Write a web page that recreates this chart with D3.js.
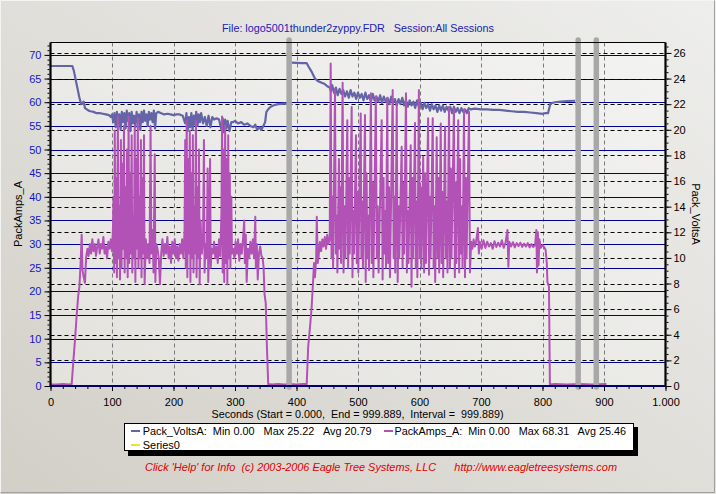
<!DOCTYPE html>
<html><head><meta charset="utf-8">
<script src="https://cdn.jsdelivr.net/npm/d3@7/dist/d3.min.js"></script>
<style>
html,body{margin:0;padding:0;background:#DAD8D1;overflow:hidden;}
svg{display:block;font-family:"Liberation Sans",Arial,sans-serif;}
</style>
</head><body>
<svg id="chart" width="716" height="494"></svg>
<script>
// ---------- DATA ----------
const titleText = "File: logo5001thunder2zyppy.FDR   Session:All Sessions";
const xTitle = "Seconds (Start = 0.000,  End = 999.889,  Interval =  999.889)";
const footerText = "Click 'Help' for Info  (c) 2003-2006 Eagle Tree Systems, LLC      http://www.eagletreesystems.com";
const leftAxisTitle = "PackAmps_A";
const rightAxisTitle = "Pack_VoltsA";
const xTickValues = [0,100,200,300,400,500,600,700,800,900,1000];
const xTickLabels = ["0","100","200","300","400","500","600","700","800","900","1.000"];
const leftTicks = [0,5,10,15,20,25,30,35,40,45,50,55,60,65,70];
const rightTicks = [0,2,4,6,8,10,12,14,16,18,20,22,24,26];
const sessionMarks = [388, 858, 887.5];
const legendNames = ["Pack_VoltsA:  Min 0.00   Max 25.22   Avg 20.79", "PackAmps_A:  Min 0.00   Max 68.31   Avg 25.46", "Series0"];

// Pack_VoltsA [seconds, volts]  (null = gap)
const packVolts = [
[0,24.98],[10,24.98],[20,24.98],[30,24.98],[35.5,24.98],[38,24.6],[41,23.9],[44,23.2],[47,22.5],[50,22.0],[52,22.1],[54,22.2],[56,21.7],[59,21.6],[62,21.5],[65,21.45],[70,21.4],[75,21.3],[80,21.3],[85,21.25],[90,21.2],[95,21.15],[98,21.0],[100,21.2],
[102,20.6],[104,21.3],[106,20.2],[108,21.4],[110,20.5],[112,21.2],[114,20.0],[116,21.4],[118,20.6],[120,21.3],[122,20.1],[124,21.5],[126,20.7],[128,21.3],[130,19.9],[132,21.4],[134,20.5],[136,21.1],[138,20.2],[140,21.4],[142,20.6],[144,21.2],[146,20.0],[148,21.4],[150,20.6],[152,21.5],[154,20.7],[156,21.2],[158,20.3],[160,21.4],[162,20.8],[164,21.3],[166,20.6],[168,21.5],[170,20.1],[172,21.3],
[175,21.4],[180,21.3],[185,21.2],[190,21.25],[195,21.2],[200,21.15],[205,21.2],[210,21.2],[215,21.1],
[219,20.5],[221,21.3],[223,19.9],[225,21.0],[227,20.2],[229,21.3],[231,20.0],[233,21.1],[235,20.4],[237,21.4],[239,20.3],[241,21.2],[243,20.6],[245,21.3],[248,20.5],[251,21.0],[254,20.3],[257,21.1],[260,20.2],[263,21.0],[266,20.8],[270,20.9],[274,20.8],
[278,20.0],[280,20.9],[282,19.8],[284,20.8],[286,20.1],[288,20.7],[291,19.9],[294,20.6],[297,20.6],[300,20.7],[305,20.5],[310,20.6],[315,20.4],[320,20.5],[325,20.3],[330,20.2],[333,20.4],[336,20.0],[340,20.2],[343,20.0],[346,20.3],[349,20.6],[351,21.4],[354,21.6],[358,21.8],[362,21.9],[370,22.0],[380,22.05],[385,22.05],
[388,null],
[392,25.24],[400,25.22],[410,25.2],[416.6,25.2],[420,24.9],[425,24.5],[430,24.0],[435,23.8],[440,23.7],[445,23.6],[450,23.4],[454,23.3],
[456,23.0],[458,23.5],[461,22.9],[464,23.3],[467,22.7],[470,23.2],[473,22.8],[476,23.1],[479,22.6],[482,23.0],[485,22.5],[488,23.1],[491,22.6],[494,22.9],[497,22.4],[500,22.9],[503,22.5],[506,22.8],[509,22.3],[512,22.9],[515,22.4],[518,22.7],[521,22.2],[524,22.8],[527,22.3],[530,22.6],[533,22.2],[536,22.7],[539,22.1],[542,22.6],[545,22.2],[548,22.5],[551,22.0],[554,22.6],[557,22.1],[560,22.4],[563,21.9],[566,22.4],[569,22.0],[572,22.5],[575,21.9],[578,22.3],[581,21.8],[584,22.3],[587,21.9],[590,22.2],[593,21.7],[596,22.3],[599,21.8],[602,22.1],[605,21.6],[608,22.1],[611,21.7],[614,22.0],[617,21.5],[620,22.0],[623,21.6],[626,21.9],[629,21.4],[632,21.9],[635,21.5],[638,21.9],[641,21.4],[644,21.8],[647,21.5],[650,21.8],[653,21.3],[656,21.8],[659,21.4],[662,21.7],[665,21.3],[668,21.7],[671,21.4],[674,21.6],[677,21.3],[680,21.7],
[683,21.6],[690,21.65],[700,21.6],[710,21.6],[720,21.55],[730,21.55],[740,21.5],[750,21.45],[760,21.4],[770,21.4],[780,21.35],[790,21.3],[800,21.25],[805,21.3],[809,21.3],[811,21.7],[813,22.05],[820,22.15],[830,22.2],[840,22.25],[853,22.27]
];

// PackAmps_A [seconds, amps]
const packAmps = [
[0,0.5],[2,0.3],[10,0.3],[20,0.4],[30,0.3],[34.5,0.4],[37,5],[40,10],[42.6,15],[45,19],[47,21],[49,26],[50.7,32],[52,24.5],[54,23],[56,21.8],[58,27.3],[60,29],[62,27.5],[64,30],[66,28],[68,31],[70,28.5],[72,30],[74,27.5],[76,29.5],[78,31],[80,28],[82,30],[84,29],[86,31.5],[88,28],[90,29.5],[92,27],[94,30.5],[96,29],[98,31],[100,28.5],
[101.5,33],[102.5,40],[103.5,24],[104.5,54],[105.5,26],[107,44],[108,23],[109.5,57],[110.5,27],[112,38],[113,22.5],[114.5,52],[115.5,25],[117,47],[118,29],[119.5,55],[120.5,24],[122,42],[123,27],[124.5,50],[125.5,23],[127,57],[128,26],[129.5,45],[130.5,28],[132,53],[133,24],[134.5,36],[135.5,27],[137,55],[138,22],[139.5,48],[140.5,29],[142,56.6],[143,25],[144.5,40],[145.5,27],[147,52],[148,23],[149.5,44],[150.5,28],[152,53],[153,21.5],[155,31],[157,27],[159,30],[161,26],[162.7,55],[164,28],[166,33],[167.5,24],[169.5,49],[170.5,22],[172,30],
[174,29],[176,27],[178,21.5],[180,28],[182,31],[184,27.5],[186,30],[188,28],[190,31.5],[192,27],[194,29.5],[196,26],[198,30.5],[200,28],[202,31],[204,27],[206,29.5],[208,26.5],[210,30],[212,28],[214,31],[216,27],
[218,33],[219,52],[220,25],[221.5,56],[222.5,23],[224,48],[225,28],[226.5,54],[227.5,22],[229,45],[230,27],[231.5,53],[232.5,24],[234,38],[235,28],[236.5,56],[237.5,23],[239,42],[240,27],[241.5,50],[242.5,21.5],[244,35],[246,28],[248,31],[249.5,52],[250.5,24],[252,30],[254,27],[255.5,46],[256.5,22],[258,31],[259.5,48],[260.5,25],[262,29],
[264,28],[266,30.5],[268,27],[270,29.5],[272,26],[274,31],[276,27.5],
[278,37],[279,57],[280,24],[281.5,50],[282.5,22],[284,55],[285,26],[286.5,48],[287.5,21.5],[289,53],[290,27],[291.5,45],[292.5,25],[294,40],[295,28],
[297,29],[299,27],[301,30.5],[303,28],[305,31],[307,26.5],[309,30],[311,28],[313,31],[315,35],[316,26],[317.5,32],[319,22],[321,29],[323,27],[325,30.5],[327,28],[329,31],[331,27],[333,35.8],[334,25],[335.5,30],[337,22.5],[339,28],[341,29.5],[343,27.5],[345,27],[346.5,25],[348,19.5],[350,17.5],[352,8],[354,0.4],
[360,0.3],[370,0.4],[380,0.3],[390,0.4],[400,0.3],[410,0.4],[416.6,0.4],
[419,8.3],[422,12.5],[424.7,16.8],[426.5,21],[428.5,26],[430,23],[432,27],[433,35.8],[434.5,26],[436,27.5],[438,30.5],[440,28.5],[442,31],[444,29.5],[446,31.5],[448,29],[450,32],[452,30],[454,31],
[455.6,68.2],[457,27],[458.5,40],[459.5,25],[462.6,62.6],[464,28],[465.5,36],[466.5,24],[469,48],[470,29],[471.5,42],[472.5,26],[475,64.1],[476.5,24],[478,38],[479.5,27],[482.6,56.2],[484,25],[485.5,44],[486.5,28],[489.7,59],[491,23],[492.5,37],[493.5,28],[496.7,53],[498,26],[499.5,41],[500.5,24],[504.4,57.6],[505.5,27],[507,39],[508,25],[511.4,57.3],[512.5,22],[514,45],[515,27],[517,36],[518,24.5],[521,61.9],[522.5,26],[524,43],[525,23],[529,61.2],[530.5,27],[532,38],[533.5,24],[538.5,56.2],[540,22.5],[541.5,44],[542.5,28],[544.5,37],[545.5,25],[547.6,60.9],[549,26],[550.5,42],[552,23],[556.4,62.6],[558,27],[559.5,40],[560.5,24],[563,59.8],[564.5,22],[566,38],[567,27],[571,50.6],[572.5,25],[574,43],[575,28],[578,61.9],[579.5,24],[581,37],[582,26],[585.7,50.9],[587,21],[588.5,44],[589.5,27],[592.7,55.6],[594,25],[595.5,39],[596.5,23],[599,62.6],[600.5,27],[602,42],[603,25],[606,48.5],[607.5,24],[609,45],[610.5,26],[614,56.6],[615.5,23.5],[617,40],[618,27],[621.5,56.6],[623,25],[624.5,38],[625.5,22],[628,52.6],[629.5,27],[631,44],[632,24],[634.5,55.5],[636,26],[637.5,41],[638.5,23],[641.5,54.8],[643,27],[644.5,39],[645.5,24],[648,59],[649.5,25],[651,46],[652,27],[656,58.5],[657.5,23],[659,43],[660,26],[663,56.2],[664.5,24],[666,48],[667,28],[669,38],[670,25],[672.4,58.5],[674,23],[675.5,44],[676.5,27],[680.5,58],[682,24],
[684,30.5],[686,29],[688,31],[690,29.5],[692,30.5],[695,33.4],[696.5,28],[698,30.5],[701,29],[704,30.8],[707,29.2],[710,30.5],[713,29.5],[716,30.2],[719,29],[722,30.6],[725,29.4],[728,30.3],[731,29.5],[734,30.8],[737,29.2],[740,30.4],[743,33],[744.5,25.2],[746,30.5],[749,29.5],[752,30.4],[755,29.3],[758,30.2],[761,29.6],[764,30.3],[767,29.4],[770,30.1],[773,29.5],[776,30.2],[779,29.3],[782,30],[785,29.4],[788,29.8],[790,33],[791,24],[792.5,32.5],[793.5,25.5],[795,31],[797,29.2],[800,29.8],[803,29.3],[805,28.8],[807,26],[808,22],[810.5,21],[812,0.3],
[820,0.4],[840,0.3],[860,0.4],[880,0.3],[904,0.4]
];

// ---------- DRAW ----------
const W = 716, H = 494;
const svg = d3.select("#chart");
const defs = svg.append("defs");
const g1 = defs.append("linearGradient").attr("id","bg").attr("x1","0").attr("y1","1").attr("x2","1").attr("y2","0");
g1.append("stop").attr("offset","0").attr("stop-color","#D2CFC7");
g1.append("stop").attr("offset","1").attr("stop-color","#EEEEEC");
const g2 = defs.append("linearGradient").attr("id","pbg").attr("x1","0").attr("y1","1").attr("x2","1").attr("y2","0");
g2.append("stop").attr("offset","0").attr("stop-color","#E3E2DD");
g2.append("stop").attr("offset","1").attr("stop-color","#F3F3F2");

svg.append("rect").attr("width",W).attr("height",H).attr("fill","url(#bg)");
// frame
svg.append("path").attr("d","M0.5,493.5V0.5H715.5").attr("fill","none").attr("stroke","#F4F4F2");
svg.append("path").attr("d","M0.5,492.5H714.5V0.5").attr("fill","none").attr("stroke","#A0A0A0");

const x = d3.scaleLinear().domain([0,1000]).range([50.5,665.5]);
const yL = d3.scaleLinear().domain([0,72.58]).range([386,42.7]);
const yR = d3.scaleLinear().domain([0,26.8]).range([386,42.7]);
const X0 = x(0), X1 = x(1000), Y0 = yL(0), Y1 = 42.5;

svg.append("rect").attr("x",X0).attr("y",Y1).attr("width",X1-X0).attr("height",Y0-Y1).attr("fill","url(#pbg)");

// vertical dashed grid
svg.append("g").selectAll("line").data(xTickValues.filter(v=>v>0&&v<1000)).join("line")
  .attr("x1",d=>Math.round(x(d))+0.5).attr("x2",d=>Math.round(x(d))+0.5)
  .attr("y1",Y1).attr("y2",Y0)
  .attr("stroke","#7A7A7A").attr("stroke-width",1).attr("stroke-dasharray","4,3");

// blue solid grid (left ticks)
svg.append("g").selectAll("line").data(leftTicks.filter(v=>v>0)).join("line")
  .attr("x1",X0).attr("x2",X1)
  .attr("y1",d=>Math.round(yL(d))+0.5).attr("y2",d=>Math.round(yL(d))+0.5)
  .attr("stroke","#00008B").attr("stroke-width",1.2);

// black dashed grid (right ticks)
svg.append("g").selectAll("line").data(rightTicks.filter(v=>v>0)).join("line")
  .attr("x1",X0).attr("x2",X1)
  .attr("y1",d=>Math.round(yR(d))+0.5).attr("y2",d=>Math.round(yR(d))+0.5)
  .attr("stroke","#000").attr("stroke-width",1.1).attr("stroke-dasharray","4,3");

// lines
const voltLine = d3.line().defined(d=>d[1]!==null).x(d=>x(d[0])).y(d=>yR(d[1]));
const ampLine = d3.line().x(d=>x(d[0])).y(d=>yL(d[1]));
svg.append("path").datum(packVolts).attr("d",voltLine).attr("fill","none")
  .attr("stroke","#6464A6").attr("stroke-width",2.2).attr("stroke-linejoin","round");
svg.append("path").datum(packAmps).attr("d",ampLine).attr("fill","none")
  .attr("stroke","#B352B6").attr("stroke-width",2).attr("stroke-linejoin","round");

// session markers
svg.append("g").selectAll("line").data(sessionMarks).join("line")
  .attr("x1",d=>x(d)).attr("x2",d=>x(d)).attr("y1",40).attr("y2",387)
  .attr("stroke","#A8A8A8").attr("stroke-width",5.5).attr("stroke-linecap","round");

// borders
svg.append("line").attr("x1",X0).attr("x2",X1).attr("y1",Y1).attr("y2",Y1).attr("stroke","#000").attr("stroke-width",1.2);
svg.append("line").attr("x1",X0).attr("x2",X0).attr("y1",Y1).attr("y2",Y0+1).attr("stroke","#000").attr("stroke-width",2.2);
svg.append("line").attr("x1",X1).attr("x2",X1).attr("y1",Y1).attr("y2",Y0+1).attr("stroke","#000").attr("stroke-width",2.2);
svg.append("line").attr("x1",X0).attr("x2",X1).attr("y1",Y0).attr("y2",Y0).attr("stroke","#000070").attr("stroke-width",2.2);

// left axis
const leftAxis = d3.axisLeft(yL).tickValues(leftTicks).tickSize(5).tickPadding(3).tickFormat(d3.format("d"));
const gl = svg.append("g").attr("transform",`translate(${X0-1},0)`).call(leftAxis);
gl.select(".domain").remove();
gl.selectAll("line").attr("stroke","#000");
gl.selectAll("text").attr("fill","#1414C8").attr("font-size",11).attr("font-family","Liberation Sans, Arial, sans-serif");
const glm = d3.axisLeft(yL).tickValues(d3.range(0,73,1)).tickSize(2).tickFormat("");
const glmg = svg.append("g").attr("transform",`translate(${X0-1},0)`).call(glm);
glmg.select(".domain").remove(); glmg.selectAll("line").attr("stroke","#000");

// right axis
const rightAxis = d3.axisRight(yR).tickValues(rightTicks).tickSize(5).tickPadding(2).tickFormat(d3.format("d"));
const gr = svg.append("g").attr("transform",`translate(${X1+1},0)`).call(rightAxis);
gr.select(".domain").remove();
gr.selectAll("line").attr("stroke","#000");
gr.selectAll("text").attr("fill","#000").attr("font-size",11).attr("font-family","Liberation Sans, Arial, sans-serif");
const grm = d3.axisRight(yR).tickValues(d3.range(0,26.6,0.5)).tickSize(2).tickFormat("");
const grmg = svg.append("g").attr("transform",`translate(${X1+1},0)`).call(grm);
grmg.select(".domain").remove(); grmg.selectAll("line").attr("stroke","#000");

// bottom axis
const bottomAxis = d3.axisBottom(x).tickValues(xTickValues).tickSize(4).tickPadding(7)
  .tickFormat((d,i)=>xTickLabels[i]);
const gb = svg.append("g").attr("transform",`translate(0,${Y0+1})`).call(bottomAxis);
gb.select(".domain").remove();
gb.selectAll("line").attr("stroke","#000");
gb.selectAll("text").attr("fill","#000").attr("font-size",11).attr("font-family","Liberation Sans, Arial, sans-serif");
const gbm = svg.append("g").attr("transform",`translate(0,${Y0+1})`).call(d3.axisBottom(x).tickValues(d3.range(0,1001,20)).tickSize(2).tickFormat(""));
gbm.select(".domain").remove(); gbm.selectAll("line").attr("stroke","#000");

// texts
svg.append("text").attr("x",358).attr("y",32).attr("text-anchor","middle").attr("font-size",11)
  .attr("fill","#2020B8").attr("textLength",272).attr("lengthAdjust","spacingAndGlyphs").attr("xml:space","preserve").text(titleText);
svg.append("text").attr("x",357.5).attr("y",418).attr("text-anchor","middle").attr("font-size",11)
  .attr("fill","#000").attr("textLength",292).attr("lengthAdjust","spacingAndGlyphs").attr("xml:space","preserve").text(xTitle);
svg.append("text").attr("transform","translate(22,214) rotate(-90)").attr("text-anchor","middle").attr("font-size",11)
  .attr("fill","#000").text(leftAxisTitle);
svg.append("text").attr("transform","translate(692,214) rotate(90)").attr("text-anchor","middle").attr("font-size",11)
  .attr("fill","#000").text(rightAxisTitle);

// legend
svg.append("rect").attr("x",128).attr("y",427).attr("width",510).attr("height",29).attr("fill","#000");
svg.append("rect").attr("x",124.5).attr("y",423.5).attr("width",509).attr("height",27).attr("fill","#fff").attr("stroke","#000");
const legendItems = [
  {lx:131, ly:431, tx:142.7, ty:435, color:"#6464A6", name:legendNames[0], len:229},
  {lx:384, ly:431, tx:394.5, ty:435, color:"#B352B6", name:legendNames[1], len:231.5},
  {lx:131, ly:445, tx:142.7, ty:449, color:"#F0E030", name:legendNames[2], len:null}
];
const lg = svg.append("g").selectAll("g").data(legendItems).join("g");
lg.append("line").attr("x1",d=>d.lx).attr("x2",d=>d.lx+9).attr("y1",d=>d.ly).attr("y2",d=>d.ly)
  .attr("stroke",d=>d.color).attr("stroke-width",2);
lg.append("text").attr("x",d=>d.tx).attr("y",d=>d.ty).attr("font-size",11).attr("fill","#000")
  .attr("xml:space","preserve")
  .each(function(d){ if(d.len){ d3.select(this).attr("textLength",d.len).attr("lengthAdjust","spacingAndGlyphs"); } })
  .text(d=>d.name);

// footer
svg.append("text").attr("x",145).attr("y",471).attr("font-size",11).attr("font-style","italic")
  .attr("fill","#E00000").attr("textLength",472).attr("lengthAdjust","spacingAndGlyphs").attr("xml:space","preserve").text(footerText);
</script>
</body></html>
